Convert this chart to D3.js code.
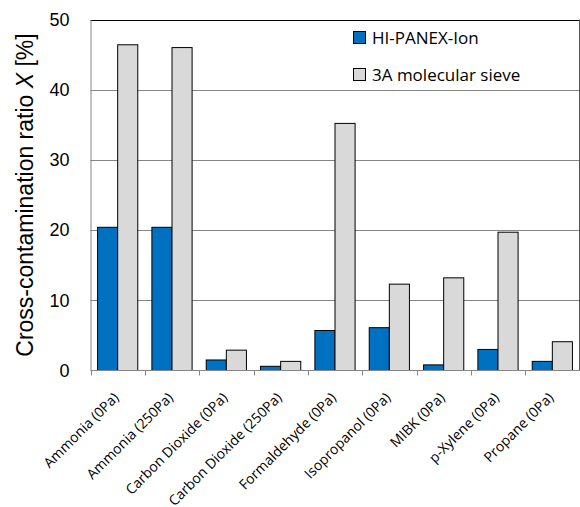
<!DOCTYPE html>
<html>
<head>
<meta charset="utf-8">
<script src="https://cdn.jsdelivr.net/npm/d3@7"></script>
<style>
  html, body { margin: 0; padding: 0; background: #fff; }
  svg { display: block; }
</style>
</head>
<body>
<div id="chart"></div>
<script>
// ---------- Data ----------
const categories = [
  "Ammonia (0Pa)", "Ammonia (250Pa)", "Carbon Dioxide (0Pa)", "Carbon Dioxide (250Pa)",
  "Formaldehyde (0Pa)", "Isopropanol (0Pa)", "MIBK (0Pa)", "p-Xylene (0Pa)", "Propane (0Pa)"
];
const seriesNames = ["HI-PANEX-Ion", "3A molecular sieve"];
const hiPanexValues = [20.4, 20.4, 1.5, 0.6, 5.7, 6.1, 0.8, 3.0, 1.3];
const sieveValues = [46.4, 46.0, 2.9, 1.3, 35.2, 12.3, 13.2, 19.7, 4.1];
const yTicks = [0, 10, 20, 30, 40, 50];
const seriesColors = ["#0070C0", "#D9D9D9"];

// ---------- Layout ----------
const W = 580, H = 507;
const plot = { left: 90.5, right: 579.5, top: 19.5, bottom: 370.5 };
const latinFont = "'Open Sans', Lato, sans-serif";
const axisFont = "'Liberation Sans', Arial, sans-serif";

const svg = d3.select("#chart").append("svg")
  .attr("width", W)
  .attr("height", H);

const x = d3.scaleBand()
  .domain(categories)
  .range([plot.left, plot.right])
  .paddingInner(0.26)
  .paddingOuter(0.13);

const xs = d3.scaleBand()
  .domain(seriesNames)
  .range([0, x.bandwidth()]);

const y = d3.scaleLinear()
  .domain([0, 50])
  .range([plot.bottom, plot.top]);

// gridlines (top one is the dark plot border)
svg.append("g")
  .selectAll("line")
  .data(yTicks.filter(t => t > 0))
  .join("line")
  .attr("x1", plot.left)
  .attr("x2", plot.right)
  .attr("y1", d => Math.round(y(d)) + 0.5)
  .attr("y2", d => Math.round(y(d)) + 0.5)
  .attr("stroke", d => d === 50 ? "#000" : "#868686")
  .attr("stroke-width", 1);

// right border
svg.append("line")
  .attr("x1", plot.right).attr("x2", plot.right)
  .attr("y1", plot.top).attr("y2", plot.bottom)
  .attr("stroke", "#555");

// bars
const rows = categories.map((c, i) => ({ cat: c, values: [hiPanexValues[i], sieveValues[i]] }));

svg.append("g")
  .selectAll("g")
  .data(rows)
  .join("g")
  .attr("transform", d => `translate(${x(d.cat)},0)`)
  .selectAll("rect")
  .data(d => d.values.map((v, j) => ({ key: seriesNames[j], v, j })))
  .join("rect")
  .attr("x", d => xs(d.key))
  .attr("width", xs.bandwidth())
  .attr("y", d => y(d.v))
  .attr("height", d => y(0) - y(d.v))
  .attr("fill", d => seriesColors[d.j])
  .attr("stroke", "#000")
  .attr("stroke-width", 1);

// y axis
const yAxis = d3.axisLeft(y).tickValues(yTicks).tickSize(0).tickPadding(21);
const yg = svg.append("g")
  .attr("transform", `translate(${plot.left},0)`)
  .call(yAxis);
yg.select(".domain").attr("stroke", "#868686");
yg.selectAll("text")
  .attr("font-family", axisFont)
  .attr("font-size", 18)
  .attr("fill", "#000");

// x axis (ticks between categories)
const step = x.step();
const tickPos = d3.range(categories.length + 1).map(i => plot.left + i * step);
const xg = svg.append("g");
xg.append("line")
  .attr("x1", plot.left).attr("x2", plot.right)
  .attr("y1", plot.bottom).attr("y2", plot.bottom)
  .attr("stroke", "#868686");
xg.selectAll("line.tick")
  .data(tickPos)
  .join("line")
  .attr("class", "tick")
  .attr("x1", d => Math.round(d) + 0.5).attr("x2", d => Math.round(d) + 0.5)
  .attr("y1", plot.bottom).attr("y2", plot.bottom + 5)
  .attr("stroke", "#868686");

xg.selectAll("text")
  .data(categories)
  .join("text")
  .attr("transform", d => `translate(${x(d) + x.bandwidth() / 2 + 2},${plot.bottom + 28}) rotate(-45)`)
  .attr("text-anchor", "end")
  .attr("font-family", latinFont)
  .attr("font-size", 14)
  .attr("fill", "#000")
  .text(d => d);

// y axis title
const yTitle = svg.append("text")
  .attr("transform", "translate(33,195) rotate(-90)")
  .attr("text-anchor", "middle")
  .attr("font-family", axisFont)
  .attr("font-size", 23)
  .attr("fill", "#000");
yTitle.append("tspan").text("Cross-contamination ratio ");
yTitle.append("tspan").attr("font-style", "italic").text("X");
yTitle.append("tspan").text(" [%]");

// legend
const legend = svg.append("g").attr("transform", "translate(353,31)");
const li = legend.selectAll("g")
  .data(seriesNames)
  .join("g")
  .attr("transform", (d, i) => `translate(0,${i * 37})`);
li.append("rect")
  .attr("x", 0.5).attr("y", 0.5)
  .attr("width", 12).attr("height", 12)
  .attr("fill", (d, i) => seriesColors[i])
  .attr("stroke", "#000");
li.append("text")
  .attr("x", 19)
  .attr("y", 12.5)
  .attr("font-family", latinFont)
  .attr("font-size", 17)
  .attr("fill", "#000")
  .text(d => d);
</script>
</body>
</html>
